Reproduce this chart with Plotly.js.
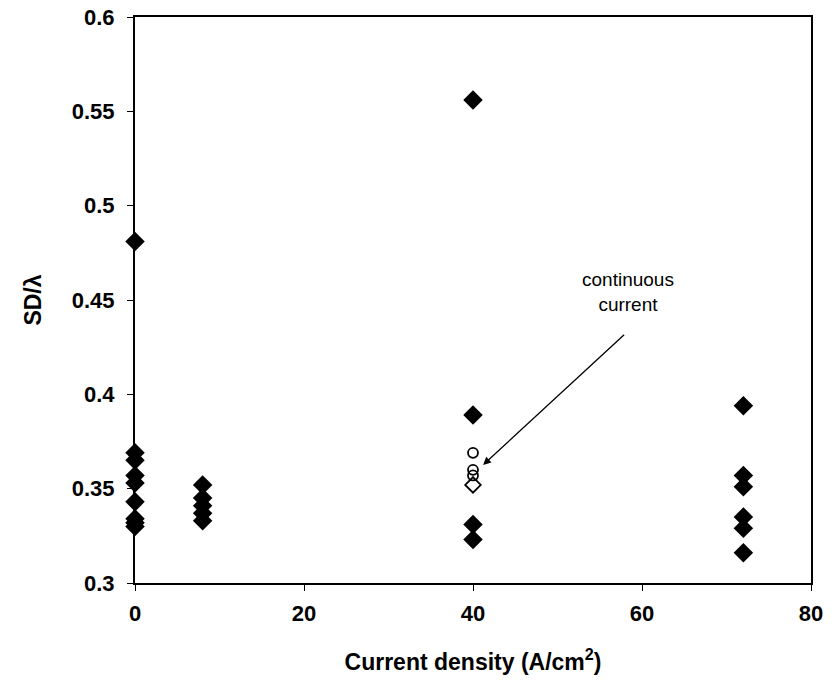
<!DOCTYPE html>
<html>
<head>
<meta charset="utf-8">
<script src="https://cdn.plot.ly/plotly-3.0.1.min.js"></script>
<style>html,body{margin:0;padding:0;background:#fff;}#chart{width:834px;height:698px;}</style>
</head>
<body>
<div id="chart"></div>
<script>
// Pulsed current samples (filled diamonds)
const pulsedX = [0,0,0,0,0,0,0,0,0, 8,8,8,8,8, 40,40,40,40, 72,72,72,72,72,72];
const pulsedY = [0.481,0.369,0.365,0.357,0.353,0.343,0.334,0.332,0.330,
                 0.352,0.345,0.341,0.337,0.333,
                 0.556,0.389,0.331,0.323,
                 0.394,0.357,0.351,0.335,0.329,0.316];
// Continuous current samples (open circles)
const contCircX = [40,40,40];
const contCircY = [0.369,0.360,0.357];
// Continuous current sample (open diamond)
const contDiaX = [40];
const contDiaY = [0.352];
const xTicks = [0,20,40,60,80];
const yTicks = [0.3,0.35,0.4,0.45,0.5,0.55,0.6];

const font = {family:'"Liberation Sans", Arial, sans-serif', color:'#000'};

const traces = [
  {x:pulsedX, y:pulsedY, type:'scatter', mode:'markers',
   marker:{symbol:'diamond', size:15, color:'#000'}, cliponaxis:false},
  {x:contCircX, y:contCircY, type:'scatter', mode:'markers',
   marker:{symbol:'circle-open', size:10, color:'#000', line:{width:1.8}}, cliponaxis:false},
  {x:contDiaX, y:contDiaY, type:'scatter', mode:'markers',
   marker:{symbol:'diamond-open', size:12, color:'#000', line:{width:1.8}}, cliponaxis:false}
];

const layout = {
  width:834, height:698,
  margin:{l:135, r:23, t:17, b:115},
  paper_bgcolor:'#fff', plot_bgcolor:'#fff',
  showlegend:false,
  font:font,
  xaxis:{range:[0,80], tickvals:xTicks, ticktext:xTicks.map(String),
    showline:true, linecolor:'#000', linewidth:2, mirror:true,
    ticks:'outside', ticklen:6, tickcolor:'#000', showgrid:false, zeroline:false,
    ticklabelstandoff:4,
    tickfont:{family:font.family, size:22, color:'#000', weight:'bold'},
    title:{text:'Current density (A/cm<sup>2</sup>)', standoff:28,
      font:{family:font.family, size:23, color:'#000', weight:'bold'}}},
  yaxis:{range:[0.3,0.6], tickvals:yTicks, ticktext:yTicks.map(v=>String(v)),
    showline:true, linecolor:'#000', linewidth:2, mirror:true,
    ticks:'outside', ticklen:6, tickcolor:'#000', showgrid:false, zeroline:false,
    ticklabelstandoff:8,
    tickfont:{family:font.family, size:22, color:'#000', weight:'bold'},
    title:{text:'SD/λ', standoff:24,
      font:{family:font.family, size:23, color:'#000', weight:'bold'}}},
  annotations:[
    {x:41.2, y:0.3626, xref:'x', yref:'y', text:' ', showarrow:true,
     ax:144, ay:-133, arrowhead:2, arrowsize:1.2, arrowwidth:1.3, arrowcolor:'#000'},
    {x:58.3, y:0.4545, xref:'x', yref:'y', text:'continuous<br>current', showarrow:false,
     font:{family:font.family, size:19, color:'#000'}, align:'center'}
  ]
};

Plotly.newPlot('chart', traces, layout, {staticPlot:true});
</script>
</body>
</html>
